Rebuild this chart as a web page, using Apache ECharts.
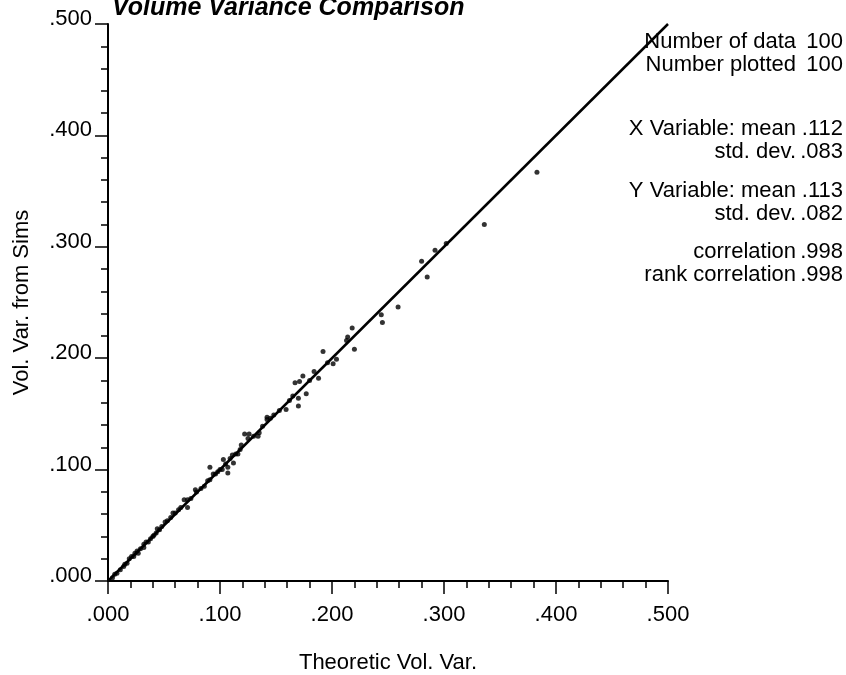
<!DOCTYPE html>
<html>
<head>
<meta charset="utf-8">
<script src="https://cdn.jsdelivr.net/npm/echarts@6/dist/echarts.min.js"></script>
<style>
html,body{margin:0;padding:0;background:#fff;}
#chart{width:846px;height:675px;}
</style>
</head>
<body>
<div id="chart"></div>
<script>
const titleText = "Volume Variance Comparison";
const xName = "Theoretic Vol. Var.";
const yName = "Vol. Var. from Sims";
const axisMin = 0, axisMax = 0.5, axisStep = 0.1;

const xVals = [0.383,0.336,0.302,0.292,0.280,0.285,0.259,0.244,0.245,0.218,0.214,0.213,0.220,0.192,0.204,0.201,0.184,0.174,0.180,0.188,
0.167,0.171,0.170,0.177,0.170,0.159,0.148,0.142,0.142,0.134,0.135,0.122,0.126,0.125,0.119,0.116,0.111,0.112,0.103,0.107,
0.107,0.102,0.098,0.091,0.094,0.089,0.091,0.078,0.079,0.068,0.071,0.071,0.063,0.058,0.051,0.048,0.044,0.041,0.040,0.036,
0.032,0.032,0.029,0.027,0.024,0.021,0.017,0.014,0.008,0.004,
0.006,0.011,0.015,0.019,0.023,0.026,0.034,0.038,0.043,0.046,0.053,0.056,0.060,0.065,0.074,0.083,0.086,0.096,0.105,0.109,
0.114,0.118,0.130,0.138,0.145,0.153,0.162,0.165,0.196,0.100];
const yVals = [0.367,0.320,0.303,0.297,0.287,0.273,0.246,0.239,0.232,0.227,0.219,0.216,0.208,0.206,0.199,0.195,0.188,0.184,0.180,0.182,
0.178,0.179,0.164,0.168,0.157,0.154,0.149,0.147,0.145,0.130,0.133,0.132,0.132,0.128,0.122,0.114,0.113,0.106,0.109,0.102,
0.097,0.100,0.098,0.102,0.096,0.090,0.091,0.082,0.080,0.073,0.073,0.066,0.064,0.061,0.053,0.049,0.047,0.041,0.040,0.035,
0.033,0.030,0.029,0.025,0.025,0.022,0.016,0.013,0.007,0.003,
0.006,0.010,0.015,0.020,0.022,0.027,0.035,0.038,0.043,0.046,0.054,0.057,0.061,0.066,0.074,0.083,0.085,0.096,0.105,0.110,
0.114,0.118,0.130,0.139,0.146,0.153,0.162,0.166,0.196,0.100];

const refLineX = [0, 0.5];
const refLineY = [0, 0.5];

const statLabels = ["Number of data", "Number plotted", "X Variable: mean", "std. dev.", "Y Variable: mean", "std. dev.", "correlation", "rank correlation"];
const statValues = ["100", "100", ".112", ".083", ".113", ".082", ".998", ".998"];
const statRows = [42, 65, 129, 152, 191, 214, 252, 275];

const FONT = '"Liberation Sans", Arial, Helvetica, sans-serif';
const fmt = v => v.toFixed(3).replace(/^0/, '');

const chart = echarts.init(document.getElementById('chart'), null, {renderer: 'canvas'});

const graphics = [];
graphics.push({
  type: 'text', left: 112, top: -4,
  style: {text: titleText, font: 'italic bold 25px ' + FONT, fill: '#000'}
});
statLabels.forEach((s, i) => {
  graphics.push({type: 'text', x: 796, y: statRows[i],
    style: {text: s, font: '22px ' + FONT, fill: '#000', align: 'right', verticalAlign: 'middle'}});
  graphics.push({type: 'text', x: 843, y: statRows[i],
    style: {text: statValues[i], font: '22px ' + FONT, fill: '#000', align: 'right', verticalAlign: 'middle'}});
});

const axisCommon = {
  type: 'value', min: axisMin, max: axisMax, interval: axisStep,
  axisLine: {show: true, onZero: false, lineStyle: {color: '#000', width: 2}},
  axisTick: {show: true, length: 13, lineStyle: {color: '#000', width: 1.5}},
  minorTick: {show: true, splitNumber: 5, length: 7, lineStyle: {color: '#000', width: 1.5}},
  splitLine: {show: false},
  nameTextStyle: {color: '#000', fontSize: 22, fontFamily: FONT}
};

chart.setOption({
  animation: false,
  backgroundColor: '#fff',
  graphic: graphics,
  grid: {left: 108, right: 178, top: 24, bottom: 94, containLabel: false, outerBoundsMode: 'none'},
  xAxis: Object.assign({}, axisCommon, {
    name: xName, nameLocation: 'middle', nameGap: 71,
    axisLabel: {color: '#000', fontSize: 22, fontFamily: FONT, margin: 23, formatter: fmt}
  }),
  yAxis: Object.assign({}, axisCommon, {
    name: yName, nameLocation: 'middle', nameGap: 75,
    axisLabel: {color: '#000', fontSize: 22, fontFamily: FONT, margin: 16, formatter: fmt,
      verticalAlign: 'bottom', lineHeight: 10}
  }),
  series: [
    {
      type: 'line', data: refLineX.map((x, i) => [x, refLineY[i]]),
      symbol: 'none', lineStyle: {color: '#000', width: 2.5}, z: 2
    },
    {
      type: 'scatter', data: xVals.map((x, i) => [x, yVals[i]]),
      symbol: 'circle', symbolSize: 5, itemStyle: {color: '#000'}, z: 3
    }
  ]
});
</script>
</body>
</html>
